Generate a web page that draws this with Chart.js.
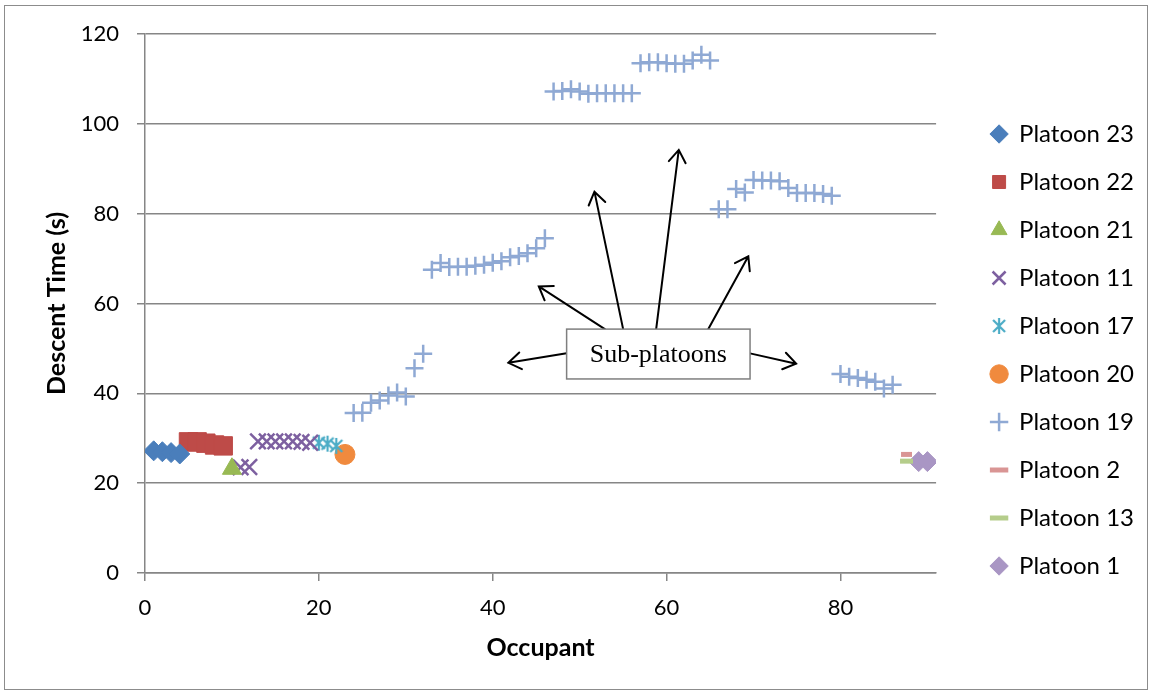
<!DOCTYPE html>
<html>
<head>
<meta charset="utf-8">
<script src="https://cdn.jsdelivr.net/npm/chart.js@4.4.1/dist/chart.umd.min.js"></script>
<style>
  html, body { margin: 0; padding: 0; background: #fff; }
  #wrap { width: 1152px; height: 694px; }
</style>
</head>
<body>
<div id="wrap"><canvas id="descentChart" width="1152" height="694"></canvas></div>
<script>
// occupant number / descent time (s) for each platoon
const p23X = [1, 2, 3, 4];
const p23Y = [27.2, 27.0, 26.8, 26.5];
const p22X = [5, 6, 7, 8, 9];
const p22Y = [29.2, 29.2, 28.9, 28.5, 28.3];
const p21X = [10];
const p21Y = [23.2];
const p11X = [11, 12, 13, 14, 15, 16, 17, 18, 19];
const p11Y = [23.5, 23.6, 29.3, 29.3, 29.3, 29.3, 29.3, 29.2, 29.0];
const p17X = [20, 21, 22];
const p17Y = [29.0, 28.8, 28.3];
const p20X = [23];
const p20Y = [26.4];
const p19X = [24, 25, 26, 27, 28, 29, 30, 31, 32,
  33, 34, 35, 36, 37, 38, 39, 40, 41, 42, 43, 44, 45, 46,
  47, 48, 49, 50, 51, 52, 53, 54, 55, 56,
  57, 58, 59, 60, 61, 62, 63, 64, 65,
  66, 67, 68, 69, 70, 71, 72, 73, 74, 75, 76, 77, 78, 79,
  80, 81, 82, 83, 84, 85, 86];
const p19Y = [35.6, 35.7, 37.9, 38.4, 39.5, 40.2, 39.3, 45.6, 48.8,
  67.5, 69.0, 68.1, 68.2, 68.2, 68.4, 68.6, 69.1, 69.4, 70.3, 70.6, 71.2, 72.3, 74.5,
  107.2, 107.3, 107.7, 107.2, 106.7, 106.8, 106.8, 106.8, 106.8, 106.8,
  113.5, 113.7, 113.7, 113.5, 113.4, 113.4, 114.1, 115.4, 114.1,
  81.0, 81.0, 85.5, 84.7, 87.5, 87.4, 87.4, 87.2, 85.7, 84.6, 84.6, 84.6, 84.4, 84.0,
  44.3, 43.7, 43.4, 43.0, 42.6, 41.1, 41.9];
const p2X = [87.6];
const p2Y = [26.4];
const p13X = [87.6];
const p13Y = [24.9];
const p1X = [89, 90];
const p1Y = [24.8, 24.8];

const yTicks = [0, 20, 40, 60, 80, 100, 120];
const xTicks = [0, 20, 40, 60, 80];

function pts(xs, ys) {
    return xs.map((v, i) => ({ x: v, y: ys[i] }));
}

// Excel-style asterisk marker (X with a vertical bar)
function asteriskMarker(color) {
    const c = document.createElement('canvas');
    c.width = 18;
    c.height = 18;
    const g = c.getContext('2d');
    g.strokeStyle = color;
    g.lineWidth = 2.2;
    g.beginPath();
    g.moveTo(9, 1); g.lineTo(9, 17);
    g.moveTo(3, 3); g.lineTo(15, 15);
    g.moveTo(15, 3); g.lineTo(3, 15);
    g.stroke();
    return c;
}

// callout ("Sub-platoons") in data units
const calloutBox = { x1: 48.5, x2: 69.6, yTop: 54.3, yBottom: 43.2 };
const calloutArrows = [
    [52.9, 54.3, 45.3, 63.8],
    [55.0, 54.3, 51.7, 84.9],
    [58.8, 54.3, 61.4, 94.2],
    [64.8, 54.3, 69.4, 70.5],
    [48.5, 48.9, 41.8, 46.8],
    [69.6, 48.9, 74.9, 46.6]
];

const calloutPlugin = {
    id: 'callout',
    beforeDraw(chart) {
        const ctx = chart.ctx;
        ctx.save();
        ctx.strokeStyle = '#8c8c8c';
        ctx.lineWidth = 1;
        ctx.strokeRect(4.5, 5.5, 1143, 684);
        ctx.restore();
    },
    afterDatasetsDraw(chart) {
        const { ctx, scales: { x, y } } = chart;
        ctx.save();
        ctx.strokeStyle = '#000';
        ctx.lineWidth = 2;
        ctx.lineCap = 'round';
        calloutArrows.forEach(a => {
            const x0 = x.getPixelForValue(a[0]), y0 = y.getPixelForValue(a[1]);
            const x1 = x.getPixelForValue(a[2]), y1 = y.getPixelForValue(a[3]);
            const ang = Math.atan2(y1 - y0, x1 - x0);
            const head = 15;
            ctx.beginPath();
            ctx.moveTo(x0, y0);
            ctx.lineTo(x1, y1);
            ctx.moveTo(x1 - head * Math.cos(ang - 0.6), y1 - head * Math.sin(ang - 0.6));
            ctx.lineTo(x1, y1);
            ctx.lineTo(x1 - head * Math.cos(ang + 0.6), y1 - head * Math.sin(ang + 0.6));
            ctx.stroke();
        });
        const bx = x.getPixelForValue(calloutBox.x1);
        const bw = x.getPixelForValue(calloutBox.x2) - bx;
        const by = y.getPixelForValue(calloutBox.yTop);
        const bh = y.getPixelForValue(calloutBox.yBottom) - by;
        ctx.fillStyle = '#fff';
        ctx.fillRect(bx, by, bw, bh);
        ctx.strokeStyle = '#7f7f7f';
        ctx.lineWidth = 1.5;
        ctx.strokeRect(bx, by, bw, bh);
        ctx.fillStyle = '#000';
        ctx.font = '26px "Liberation Serif", "Times New Roman", serif';
        ctx.textAlign = 'center';
        ctx.textBaseline = 'middle';
        ctx.fillText('Sub-platoons', bx + bw / 2, by + bh / 2 + 1);
        ctx.restore();
    }
};

function series(label, xs, ys, color, style, radius, bw, fill) {
    return {
        label: label,
        data: pts(xs, ys),
        pointStyle: style,
        pointRadius: radius,
        pointHoverRadius: radius,
        pointBackgroundColor: fill ? color : 'transparent',
        pointBorderColor: color,
        pointBorderWidth: bw,
        backgroundColor: color,
        borderColor: color,
        showLine: false
    };
}

// empty axes that only reserve room (top margin, gap before the legend)
function spacer(position, size) {
    return {
        type: 'linear',
        position: position,
        display: true,
        grid: { display: false, drawTicks: false },
        border: { display: false },
        ticks: { display: false },
        afterFit: s => {
            if (position === 'top') s.height = size; else s.width = size;
        }
    };
}

const fontFamily = 'Lato, "Open Sans", sans-serif';

const ctx = document.getElementById('descentChart').getContext('2d');
window.descentChart = new Chart(ctx, {
    type: 'scatter',
    data: {
        datasets: [
            series('Platoon 23', p23X, p23Y, '#4A7EBB', 'rectRot', 10, 1, true),
            series('Platoon 22', p22X, p22Y, '#BE4B48', 'rect', 13, 1, true),
            series('Platoon 21', p21X, p21Y, '#98B954', 'triangle', 11, 1, true),
            series('Platoon 11', p11X, p11Y, '#7D60A0', 'crossRot', 11, 2.5, false),
            series('Platoon 17', p17X, p17Y, '#4BACC6', asteriskMarker('#4BACC6'), 9, 2.5, false),
            series('Platoon 20', p20X, p20Y, '#F08A3E', 'circle', 10, 1, true),
            series('Platoon 19', p19X, p19Y, '#8FA9D4', 'cross', 9, 2.5, false),
            series('Platoon 2', p2X, p2Y, '#D99594', 'line', 5.5, 5, false),
            series('Platoon 13', p13X, p13Y, '#B5CD8B', 'line', 6.5, 5, false),
            series('Platoon 1', p1X, p1Y, '#A996C4', 'rectRot', 10, 1, true)
        ]
    },
    options: {
        responsive: false,
        animation: false,
        layout: { padding: { top: 6, right: 8, bottom: 0, left: 0 } },
        plugins: {
            tooltip: { enabled: false },
            legend: {
                position: 'right',
                labels: {
                    usePointStyle: true,
                    boxWidth: 16,
                    boxHeight: 13,
                    padding: 24,
                    color: '#000',
                    font: { family: fontFamily, size: 24 }
                }
            }
        },
        scales: {
            x: {
                type: 'linear',
                min: 0,
                max: 91,
                afterBuildTicks: s => { s.ticks = xTicks.map(v => ({ value: v })); },
                afterFit: s => { s.height = 121; },
                border: { color: '#868686', width: 1.5 },
                grid: { drawOnChartArea: false, drawTicks: true, tickLength: 8, color: '#868686', lineWidth: 1.5 },
                ticks: { color: '#000', padding: 14, font: { family: fontFamily, size: 22 } },
                title: {
                    display: true,
                    text: 'Occupant',
                    color: '#000',
                    padding: { top: 0, bottom: 31 },
                    font: { family: fontFamily, size: 25, weight: 'bold' }
                }
            },
            y: {
                min: 0,
                max: 120,
                afterBuildTicks: s => { s.ticks = yTicks.map(v => ({ value: v })); },
                afterFit: s => { s.width = 145; },
                border: { color: '#868686', width: 1.5 },
                grid: { color: '#868686', lineWidth: 1.5, tickLength: 8 },
                ticks: { color: '#000', padding: 18, font: { family: fontFamily, size: 22 } },
                title: {
                    display: true,
                    text: 'Descent Time (s)',
                    color: '#000',
                    padding: { top: 42, bottom: 0 },
                    font: { family: fontFamily, size: 25, weight: 'bold' }
                }
            },
            topSpace: spacer('top', 28),
            rightSpace: spacer('right', 31)
        }
    },
    plugins: [calloutPlugin]
});
</script>
</body>
</html>
